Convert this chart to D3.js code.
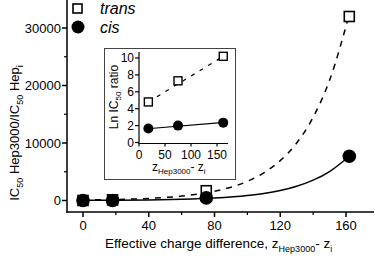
<!DOCTYPE html>
<html><head><meta charset="utf-8">
<script src="https://cdn.jsdelivr.net/npm/d3@7"></script>
<style>
html,body{margin:0;padding:0;background:#fff;}
svg{display:block;font-family:"Liberation Sans",Arial,sans-serif;}
</style></head>
<body><svg id="c" width="375" height="257"></svg>
<script>
// ---- data ----
const chargeDiff = [0, 18, 75, 162];
const transRatio = [2, 120, 1700, 32000];
const cisRatio = [1, 5, 450, 7700];
// fitted curves (estimated sample points along the drawn curves)
const curveX = [0, 20, 40, 60, 80, 100, 110, 120, 130, 140, 150, 162];
const transCurve = [84, 176, 366, 765, 1595, 3330, 4800, 6940, 10000, 14470, 20900, 32400];
const cisCurve = [25, 51, 103, 209, 423, 857, 1220, 1740, 2480, 3540, 5040, 7700];
const mainYTicks = [0, 10000, 20000, 30000];
const mainYMinor = [5000, 15000, 25000];
const mainXTicks = [0, 40, 80, 120, 160];
const mainXMinor = [20, 60, 100, 140];
// inset
const insetX = [18, 75, 162];
const insetTrans = [4.8, 7.3, 10.2];
const insetCis = [1.65, 2.0, 2.35];
const insetTransLineX = [18, 165];
const insetTransLineY = [4.8, 10.3];
const insetCisLineX = [10, 170];
const insetCisLineY = [1.6, 2.4];
const insetYTicks = [0, 2, 4, 6, 8, 10];
const insetXTicks = [0, 50, 100, 150];

const svg = d3.select("#c");

// ---- main scales ----
const x = d3.scaleLinear().domain([0, 160]).range([83, 346]);
const y = d3.scaleLinear().domain([0, 30000]).range([200.5, 28]);
const axX = 67, axY = 212;
const xEnd = x.invert(374), yTop = y.invert(0);

// axes lines
const g = svg.append("g");
g.append("line").attr("x1", axX).attr("x2", axX).attr("y1", y(yTop)).attr("y2", axY + 0.75)
  .attr("stroke", "#000").attr("stroke-width", 1.5);
g.append("line").attr("x1", axX - 0.75).attr("x2", x(xEnd)).attr("y1", axY).attr("y2", axY)
  .attr("stroke", "#000").attr("stroke-width", 1.5);
// y ticks
mainYTicks.forEach(v => {
  g.append("line").attr("x1", axX - 5).attr("x2", axX).attr("y1", y(v)).attr("y2", y(v)).attr("stroke", "#000").attr("stroke-width", 1.5);
  g.append("text").attr("x", axX - 6).attr("y", y(v) + 4.7).attr("text-anchor", "end").attr("font-size", 13).text(v);
});
mainYMinor.forEach(v => {
  g.append("line").attr("x1", axX - 3).attr("x2", axX).attr("y1", y(v)).attr("y2", y(v)).attr("stroke", "#000").attr("stroke-width", 1.2);
});
mainXTicks.forEach(v => {
  g.append("line").attr("x1", x(v)).attr("x2", x(v)).attr("y1", axY).attr("y2", axY + 5).attr("stroke", "#000").attr("stroke-width", 1.5);
  g.append("text").attr("x", x(v)).attr("y", axY + 18).attr("text-anchor", "middle").attr("font-size", 13).text(v);
});
mainXMinor.forEach(v => {
  g.append("line").attr("x1", x(v)).attr("x2", x(v)).attr("y1", axY).attr("y2", axY + 3).attr("stroke", "#000").attr("stroke-width", 1.2);
});

// axis labels
const xl = g.append("text").attr("x", 105).attr("y", 248).attr("font-size", 13.5);
xl.append("tspan").text("Effective charge difference, z");
xl.append("tspan").attr("font-size", 9).attr("dy", 4).text("Hep3000");
xl.append("tspan").attr("dy", -4).text("- z");
xl.append("tspan").attr("font-size", 9).attr("dy", 4).text("i");

const yl = g.append("text").attr("transform", "translate(19,133) rotate(-90)").attr("text-anchor", "middle").attr("font-size", 13);
yl.append("tspan").text("IC");
yl.append("tspan").attr("font-size", 9).attr("dy", 4).text("50");
yl.append("tspan").attr("dy", -4).text(" Hep3000/IC");
yl.append("tspan").attr("font-size", 9).attr("dy", 4).text("50");
yl.append("tspan").attr("dy", -4).text(" Hep");
yl.append("tspan").attr("font-size", 9).attr("dy", 4).text("i");

// curves
const line = d3.line().x(d => x(d[0])).y(d => y(d[1])).curve(d3.curveMonotoneX);
g.append("path").attr("d", line(curveX.map((v, i) => [v, transCurve[i]])))
  .attr("fill", "none").attr("stroke", "#000").attr("stroke-width", 1.5).attr("stroke-dasharray", "6,6");
g.append("path").attr("d", line(curveX.map((v, i) => [v, cisCurve[i]])))
  .attr("fill", "none").attr("stroke", "#000").attr("stroke-width", 1.5);

// markers
const sq = 10;
chargeDiff.forEach((v, i) => {
  g.append("rect").attr("x", x(v) - sq / 2).attr("y", y(transRatio[i]) - sq / 2).attr("width", sq).attr("height", sq)
    .attr("fill", "#fff").attr("stroke", "#000").attr("stroke-width", 1.6);
});
chargeDiff.forEach((v, i) => {
  g.append("circle").attr("cx", x(v)).attr("cy", y(cisRatio[i])).attr("r", 6.8).attr("fill", "#000");
});

// legend
g.append("rect").attr("x", 73).attr("y", 4).attr("width", 9).attr("height", 9).attr("fill", "#fff").attr("stroke", "#000").attr("stroke-width", 1.6);
g.append("text").attr("x", 100).attr("y", 14).attr("font-size", 16).attr("font-style", "italic").text("trans");
g.append("circle").attr("cx", 78).attr("cy", 27).attr("r", 6.5).attr("fill", "#000");
g.append("text").attr("x", 100).attr("y", 33).attr("font-size", 16).attr("font-style", "italic").text("cis");

// ---- inset ----
const ins = svg.append("g");
ins.append("rect").attr("x", 104.5).attr("y", 48.5).attr("width", 131).attr("height", 131)
  .attr("fill", "#fff").attr("stroke", "#444").attr("stroke-width", 1);
const ix = d3.scaleLinear().domain([0, 150]).range([139, 217]);
const iy = d3.scaleLinear().domain([0, 10]).range([142.5, 58]);
const iaxX = 139, iaxY = 143.5;
ins.append("line").attr("x1", iaxX).attr("x2", iaxX).attr("y1", 52).attr("y2", iaxY + 0.5).attr("stroke", "#000").attr("stroke-width", 1.2);
ins.append("line").attr("x1", iaxX - 0.5).attr("x2", ix(171)).attr("y1", iaxY).attr("y2", iaxY).attr("stroke", "#000").attr("stroke-width", 1.2);
insetYTicks.forEach(v => {
  ins.append("line").attr("x1", iaxX - 4).attr("x2", iaxX).attr("y1", iy(v)).attr("y2", iy(v)).attr("stroke", "#000").attr("stroke-width", 1.2);
  ins.append("text").attr("x", iaxX - 5).attr("y", iy(v) + 4.2).attr("text-anchor", "end").attr("font-size", 12).text(v);
});
insetXTicks.forEach(v => {
  ins.append("line").attr("x1", ix(v)).attr("x2", ix(v)).attr("y1", iaxY).attr("y2", iaxY + 3).attr("stroke", "#000").attr("stroke-width", 1.2);
  ins.append("text").attr("x", ix(v)).attr("y", iaxY + 15).attr("text-anchor", "middle").attr("font-size", 12).text(v);
});
const ixl = ins.append("text").attr("x", 152).attr("y", 171).attr("font-size", 12);
ixl.append("tspan").text("z");
ixl.append("tspan").attr("font-size", 8).attr("dy", 3).text("Hep3000");
ixl.append("tspan").attr("dy", -3).text("- z");
ixl.append("tspan").attr("font-size", 8).attr("dy", 3).text("i");
const iyl = ins.append("text").attr("transform", "translate(118,97) rotate(-90)").attr("text-anchor", "middle").attr("font-size", 12);
iyl.append("tspan").text("Ln IC");
iyl.append("tspan").attr("font-size", 8).attr("dy", 3).text("50");
iyl.append("tspan").attr("dy", -3).text(" ratio");

const iline = d3.line().x(d => ix(d[0])).y(d => iy(d[1]));
ins.append("path").attr("d", iline(insetTransLineX.map((v, i) => [v, insetTransLineY[i]])))
  .attr("fill", "none").attr("stroke", "#000").attr("stroke-width", 1.2).attr("stroke-dasharray", "4,6");
ins.append("path").attr("d", iline(insetCisLineX.map((v, i) => [v, insetCisLineY[i]])))
  .attr("fill", "none").attr("stroke", "#000").attr("stroke-width", 1.2);
const isq = 8;
insetX.forEach((v, i) => {
  ins.append("rect").attr("x", ix(v) - isq / 2).attr("y", iy(insetTrans[i]) - isq / 2).attr("width", isq).attr("height", isq)
    .attr("fill", "#fff").attr("stroke", "#000").attr("stroke-width", 1.4);
  ins.append("circle").attr("cx", ix(v)).attr("cy", iy(insetCis[i])).attr("r", 5).attr("fill", "#000");
});
</script></body></html>
